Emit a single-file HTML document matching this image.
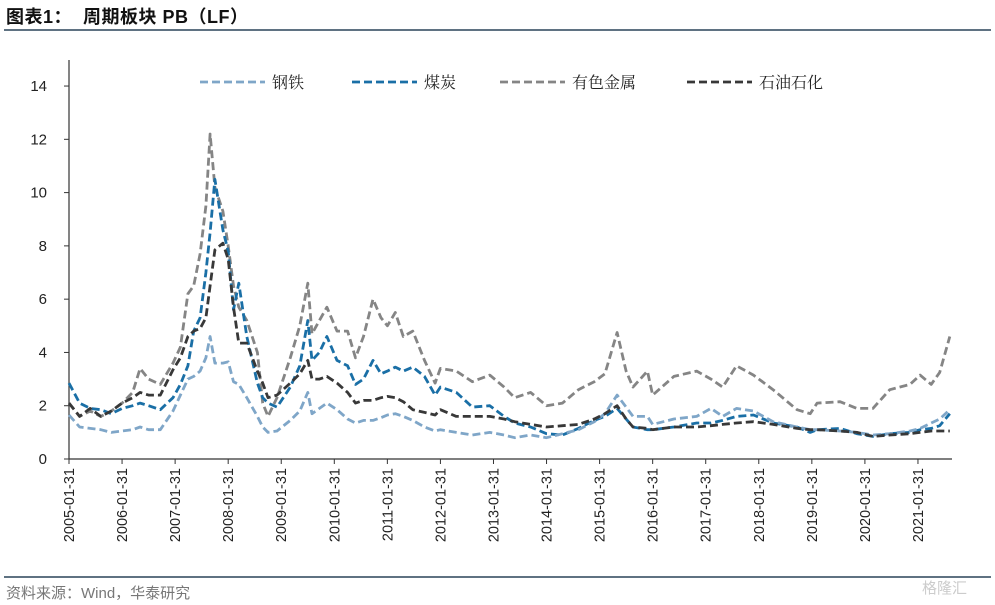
<!DOCTYPE html>
<html><head><meta charset="utf-8">
<style>
html,body{margin:0;padding:0;background:#fff;}
body{width:995px;height:605px;position:relative;overflow:hidden;font-family:"Liberation Sans","Noto Sans CJK SC",sans-serif;}
#title{position:absolute;left:6px;top:3px;font-size:18px;font-weight:bold;color:#111;letter-spacing:0.5px;}
#topline{position:absolute;left:4px;top:29px;width:987px;height:2px;background:#5f7282;}
#botline{position:absolute;left:4px;top:576px;width:987px;height:2px;background:#5f7282;}
#source{position:absolute;left:6px;top:582px;font-size:15px;color:#777;}
#wm{position:absolute;left:922px;top:577px;font-size:15px;color:#ccc;}
svg{position:absolute;left:0;top:0;}
</style></head><body>
<div id="title">图表1：&nbsp;&nbsp;周期板块 PB（LF）</div>
<div id="topline"></div>
<svg id="chart" width="995" height="605"></svg>
<div id="botline"></div>
<div id="source">资料来源：Wind，华泰研究</div>
<div id="wm">格隆汇</div>
<script>
const dates=[2005.0,2005.2,2005.4,2005.6,2005.8,2006.0,2006.2,2006.34,2006.5,2006.72,2006.96,2007.1,2007.24,2007.35,2007.47,2007.58,2007.66,2007.75,2007.9,2008.0,2008.1,2008.2,2008.35,2008.55,2008.65,2008.75,2008.92,2009.17,2009.35,2009.5,2009.58,2009.72,2009.86,2010.05,2010.25,2010.4,2010.55,2010.73,2010.88,2011.0,2011.15,2011.3,2011.48,2011.7,2011.9,2012.0,2012.3,2012.6,2012.93,2013.2,2013.4,2013.7,2014.0,2014.3,2014.6,2014.9,2015.1,2015.33,2015.5,2015.63,2015.9,2016.0,2016.4,2016.83,2017.1,2017.32,2017.58,2017.9,2018.27,2018.72,2018.97,2019.1,2019.53,2019.85,2020.15,2020.47,2020.85,2021.04,2021.25,2021.41,2021.6];
const steel=[1.65,1.2,1.15,1.1,1.0, 1.05,1.1,1.2,1.1,1.1,1.8, 2.4,3.0,3.1,3.3,3.8,4.6,3.6,3.6, 3.65,2.9,2.8,2.3,1.6,1.2,1.0,1.05, 1.45,1.8,2.5,1.7,1.9,2.1, 1.85,1.5,1.35,1.45,1.45,1.55, 1.65,1.7,1.6,1.45,1.2,1.05, 1.1,1.0,0.9,1.0, 0.9,0.8,0.9, 0.8,0.95,1.1,1.4, 1.7,2.4,1.95,1.6,1.6, 1.3,1.5,1.6, 1.9,1.6,1.9,1.8, 1.4,1.2,1.1, 1.1,1.05,1.0, 0.9,0.95,1.05, 1.15,1.35,1.5,1.85];
const coal=[2.85,2.1,1.9,1.85,1.7, 1.9,2.0,2.1,2.0,1.85,2.3, 2.8,3.5,4.8,5.3,7.0,8.5,10.5,8.6, 7.8,5.6,6.6,4.6,2.85,2.3,2.1,1.95, 2.7,3.5,5.2,3.7,4.0,4.6, 3.7,3.5,2.8,3.0,3.7,3.2, 3.3,3.45,3.3,3.45,3.1,2.4, 2.7,2.5,1.95,2.0, 1.6,1.35,1.2, 0.95,0.9,1.15,1.45, 1.6,1.9,1.5,1.2,1.1, 1.1,1.2,1.35, 1.35,1.45,1.6,1.65, 1.35,1.2,1.0, 1.1,1.15,0.95, 0.85,0.95,1.0, 1.1,1.15,1.25,1.7];
const metals=[2.1,1.6,1.8,1.6,1.8, 2.1,2.5,3.4,3.0,2.8,3.6, 4.2,6.2,6.5,7.7,9.5,12.2,10.2,9.3, 8.0,6.5,5.7,5.2,4.0,2.1,1.6,2.3, 3.8,5.0,6.6,4.7,5.2,5.7, 4.8,4.8,3.8,4.6,6.0,5.3, 5.0,5.5,4.6,4.8,3.7,2.85, 3.4,3.3,2.9,3.15, 2.7,2.3,2.5, 2.0,2.1,2.6,2.9, 3.2,4.75,3.3,2.7,3.3, 2.4,3.1,3.3, 3.0,2.7,3.5,3.15, 2.6,1.85,1.7, 2.1,2.15,1.9, 1.9,2.6,2.8, 3.15,2.8,3.25,4.6];
const petro=[2.1,1.6,1.9,1.6,1.8, 2.1,2.3,2.5,2.4,2.4,3.35, 3.8,4.6,4.8,4.9,5.3,6.5,7.85,8.1, 7.5,5.7,4.35,4.35,3.3,2.85,2.3,2.4, 2.85,3.2,3.7,3.0,3.0,3.1, 2.85,2.5,2.1,2.2,2.2,2.3, 2.35,2.3,2.15,1.85,1.75,1.65, 1.85,1.6,1.6,1.6, 1.5,1.4,1.3, 1.2,1.25,1.3,1.5, 1.7,2.0,1.5,1.2,1.15, 1.1,1.2,1.2, 1.25,1.3,1.35,1.4, 1.3,1.15,1.1, 1.1,1.05,1.0, 0.85,0.9,0.95, 1.0,1.05,1.05,1.05];
const yTicks=[0,2,4,6,8,10,12,14];
const xTickYears=[2005,2006,2007,2008,2009,2010,2011,2012,2013,2014,2015,2016,2017,2018,2019,2020,2021];
const seriesNames=['钢铁','煤炭','有色金属','石油石化'];

const NS='http://www.w3.org/2000/svg';
const svg=document.getElementById('chart');
const X0=69,Y0=459,PXY=53.06,PXV=26.64;
function xs(t){return X0+(t-2005)*PXY;}
function ys(v){return Y0-v*PXV;}
function mk(tag,attrs){const e=document.createElementNS(NS,tag);for(const k in attrs)e.setAttribute(k,attrs[k]);svg.appendChild(e);return e;}

let ax=mk('line',{x1:X0,y1:60,x2:X0,y2:Y0,stroke:'#333','stroke-width':1.2});


let bx=mk('line',{x1:X0,y1:Y0,x2:952,y2:Y0,stroke:'#333','stroke-width':1.2});



yTicks.forEach(v=>{
  const tk=mk('line',{x1:X0-5,y1:ys(v),x2:X0,y2:ys(v),stroke:'#333','stroke-width':1});
  
  
  const tx=mk('text',{x:47,y:ys(v)+5,'text-anchor':'end','font-size':15,fill:'#222','font-family':'Liberation Sans, sans-serif'});
  tx.textContent=v;
  
  
});
xTickYears.forEach(yr=>{
  const x=xs(yr);
  const tk=mk('line',{x1:x,y1:Y0,x2:x,y2:Y0+5,stroke:'#333','stroke-width':1});
  
  
  const tx=mk('text',{x:0,y:0,'text-anchor':'end','font-size':14.5,fill:'#222','font-family':'Liberation Sans, sans-serif',transform:'translate('+(x+5)+','+(Y0+9)+') rotate(-90)'});
  tx.textContent=yr+'-01-31';
  
  
});

const seriesData=[steel,coal,metals,petro];
const colors=['#7fa6c8','#1a6fa6','#858585','#383838'];
const slugs=['steel','coal','nonferrous-metals','petrochemical'];
const order=[2,1,0,3];
order.forEach(i=>{
  const d=seriesData[i].map((v,j)=>(j?'L':'M')+xs(dates[j]).toFixed(1)+','+ys(v).toFixed(1)).join(' ');
  const p=mk('path',{d:d,fill:'none',stroke:colors[i],'stroke-width':2.8,'stroke-dasharray':'8,4','stroke-linejoin':'round'});
  
  
});

const legX=[200,352,500,687];
seriesNames.forEach((n,i)=>{
  const l=mk('line',{x1:legX[i],y1:82,x2:legX[i]+65,y2:82,stroke:colors[i],'stroke-width':2.8,'stroke-dasharray':'8,4'});
  
  
  const t=mk('text',{x:legX[i]+72,y:88,'font-size':16,fill:'#222','font-family':"'Liberation Serif', 'Noto Serif CJK SC', serif"});
  t.textContent=n;
  
  
});
</script>
</body></html>
